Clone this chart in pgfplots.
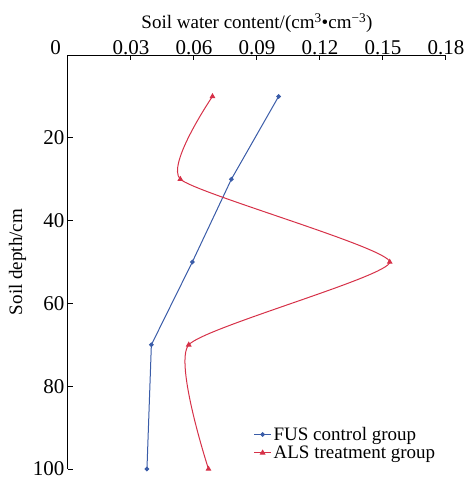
\documentclass[border=0pt]{standalone}
\usepackage{fontspec}
\setmainfont{Liberation Serif}
\usepackage{pgfplots}
\pgfplotsset{compat=1.18}
\definecolor{fusblue}{HTML}{3A5CA8}
\definecolor{alsred}{HTML}{D63148}
\begin{document}
\begin{tikzpicture}
\begin{axis}[
  scale only axis, width=378pt, height=414pt,
  font=\fontsize{19}{22}\selectfont,
  /pgf/number format/assume math mode=true,
  xmin=0, xmax=0.18, ymin=0, ymax=100, y dir=reverse,
  axis x line=top, axis y line=left, axis line style={-, line width=1pt},
  xtick={0,0.03,0.06,0.09,0.12,0.15,0.18},
  xticklabels={\llap{0\hspace{7pt}},0.03,0.06,0.09,0.12,0.15,0.18},
  ytick={20,40,60,80,100},
  major tick length=0pt,
  ticklabel style={font=\fontsize{21}{24}\selectfont},
  xticklabel style={inner sep=0.5pt},
  xlabel={Soil water content/(cm\textsuperscript{3}•cm\textsuperscript{−3})},
  ylabel={Soil depth/cm},
  xlabel style={yshift=3pt},
  legend style={draw=none, fill=none, at={(0.985,0.012)}, anchor=south east, font=\fontsize{19}{22}\selectfont},
  legend cell align=left,
  clip=false,
]
\addplot[fusblue, line width=1pt, mark=*, mark size=1.8pt] coordinates {
 (0.1003,10) (0.0778,30) (0.0592,50) (0.0397,70) (0.0376,100)};
\addlegendentry{FUS control group}
\addplot[alsred, line width=1pt, smooth, tension=0.3, mark=triangle*, mark size=2.4pt] coordinates {
 (0.0688,10) (0.0535,30) (0.1532,50) (0.0575,70) (0.0669,100)};
\addlegendentry{ALS treatment group}
\pgfplotsinvokeforeach{0.03,0.06,0.09,0.12,0.15,0.18}{
  \draw[black, line width=1pt] (axis cs:#1,0) -- ([yshift=-5pt]axis cs:#1,0);}
\pgfplotsinvokeforeach{20,40,60,80,100}{
  \draw[black, line width=1pt] (axis cs:0,#1) -- ([xshift=5pt]axis cs:0,#1);}
\coordinate (tl) at (axis cs:0,0);
\coordinate (br) at (axis cs:0.18,100);
\end{axis}
\path ([shift={(-68pt,55pt)}]tl) rectangle ([shift={(19pt,-11pt)}]br);
\end{tikzpicture}
\end{document}
